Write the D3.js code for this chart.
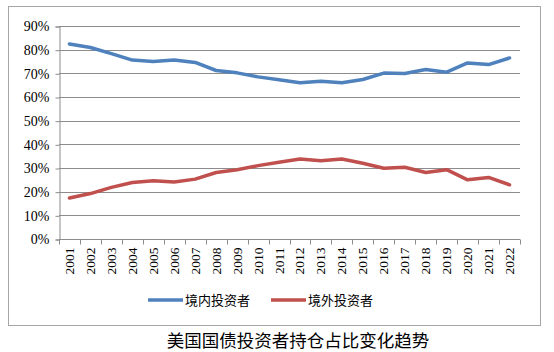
<!DOCTYPE html>
<html>
<head>
<meta charset="utf-8">
<script src="https://cdn.jsdelivr.net/npm/d3@7"></script>
<style>
  body { margin: 0; background: #fff; }
  svg text { fill: #000; }
</style>
</head>
<body>
<div id="chart"></div>
<script>
// data
var years = ["2001", "2002", "2003", "2004", "2005", "2006", "2007", "2008", "2009", "2010", "2011",
  "2012", "2013", "2014", "2015", "2016", "2017", "2018", "2019", "2020", "2021", "2022"];
var domestic = [82.4, 80.9, 78.3, 75.6, 75.0, 75.6, 74.6, 71.2, 70.2, 68.5, 67.3,
  66.0, 66.7, 66.0, 67.4, 70.1, 69.9, 71.6, 70.5, 74.4, 73.7, 76.5];
var foreign = [17.3, 19.2, 21.8, 23.9, 24.6, 24.1, 25.3, 28.1, 29.3, 31.0, 32.4,
  33.8, 33.1, 33.8, 32.0, 29.9, 30.3, 28.1, 29.3, 25.0, 26.0, 22.9];
var yTicks = [0, 10, 20, 30, 40, 50, 60, 70, 80, 90];
var seriesNames = ["境内投资者", "境外投资者"];
var colors = ["#4F81BD", "#C0504D"];

var width = 554, height = 352;
var plotLeft = 59, plotRight = 520, plotTop = 26, plotBottom = 239;

var svg = d3.select("#chart").append("svg")
  .attr("width", width)
  .attr("height", height);

// outer chart frame
svg.append("rect")
  .attr("x", 8.5).attr("y", 6.5)
  .attr("width", 532).attr("height", 319)
  .attr("fill", "none")
  .attr("stroke", "#a6a6a6")
  .attr("stroke-width", 1);

var x = d3.scaleBand()
  .domain(years)
  .range([plotLeft, plotRight]);

var y = d3.scaleLinear()
  .domain([0, 90])
  .range([plotBottom, plotTop]);

// gridlines
svg.append("g")
  .selectAll("line")
  .data(yTicks.slice(1))
  .join("line")
  .attr("x1", plotLeft).attr("x2", plotRight)
  .attr("y1", d => Math.round(y(d)) + 0.5)
  .attr("y2", d => Math.round(y(d)) + 0.5)
  .attr("stroke", "#8c8c8c")
  .attr("stroke-width", 1);

// y axis
var yAxis = svg.append("g")
  .attr("transform", "translate(" + (plotLeft + 0.5) + ",0.5)")
  .call(d3.axisLeft(y).tickValues(yTicks).tickSize(4).tickPadding(6)
    .tickFormat(d => d + "%"));
yAxis.selectAll("path, line").attr("stroke", "#8c8c8c");
yAxis.selectAll("text")
  .style("font-family", "'Liberation Serif', 'DejaVu Serif', serif")
  .style("font-size", "14px");

// x axis with ticks at band edges
var xAxis = svg.append("g")
  .attr("transform", "translate(0," + (Math.round(plotBottom) + 0.5) + ")");
xAxis.append("line")
  .attr("x1", plotLeft).attr("x2", plotRight)
  .attr("stroke", "#8c8c8c");
xAxis.selectAll("line.tick")
  .data(years.concat(["end"]))
  .join("line")
  .attr("class", "tick")
  .attr("x1", (d, i) => Math.round(plotLeft + i * x.step()) + 0.5)
  .attr("x2", (d, i) => Math.round(plotLeft + i * x.step()) + 0.5)
  .attr("y1", 0).attr("y2", 5)
  .attr("stroke", "#8c8c8c");
xAxis.selectAll("text")
  .data(years)
  .join("text")
  .attr("transform", d => "translate(" + (x(d) + x.bandwidth() / 2 + 4.5) + ",8) rotate(-90)")
  .attr("text-anchor", "end")
  .style("font-family", "'Liberation Serif', 'DejaVu Serif', serif")
  .style("font-size", "13.5px")
  .text(d => d);

// lines
var line = d3.line()
  .x((d, i) => x(years[i]) + x.bandwidth() / 2)
  .y(d => y(d));

[domestic, foreign].forEach(function (s, k) {
  svg.append("path")
    .datum(s)
    .attr("d", line)
    .attr("fill", "none")
    .attr("stroke", colors[k])
    .attr("stroke-width", 3.5)
    .attr("stroke-linejoin", "round")
    .attr("stroke-linecap", "round");
});

// legend
var legendX = [148, 271];
var legend = svg.append("g")
  .selectAll("g")
  .data(seriesNames)
  .join("g")
  .attr("transform", (d, i) => "translate(" + legendX[i] + ",300)");
legend.append("line")
  .attr("x1", 0).attr("x2", 35)
  .attr("stroke", (d, i) => colors[i])
  .attr("stroke-width", 3.5);
legend.append("text")
  .attr("x", 37)
  .attr("dy", "0.35em")
  .style("font-family", "'Noto Sans CJK SC', sans-serif")
  .style("font-size", "13px")
  .text(d => d);

// title
svg.append("text")
  .attr("x", 298)
  .attr("y", 341)
  .attr("text-anchor", "middle")
  .attr("dy", "0.35em")
  .style("font-family", "'Noto Sans CJK SC', sans-serif")
  .style("font-size", "17.5px")
  .text("美国国债投资者持仓占比变化趋势");
</script>
</body>
</html>
